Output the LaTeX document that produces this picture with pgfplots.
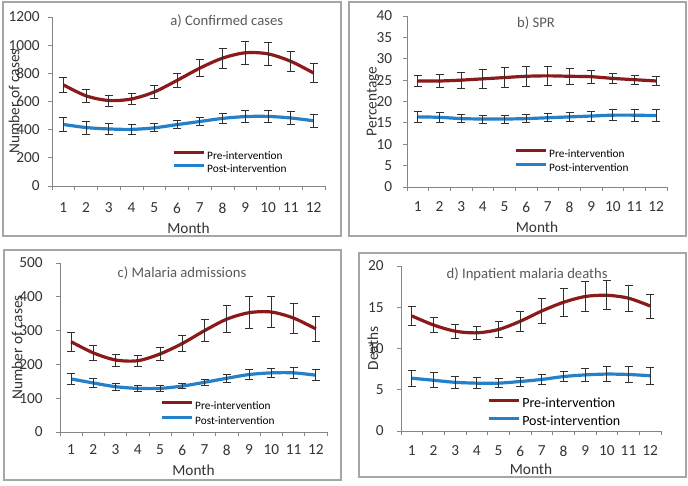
\documentclass[border=0pt]{standalone}
\usepackage{pgfplots}
\pgfplotsset{compat=1.18}
\usepackage{pgfplotstable}
\usepackage{fontspec}
\setmainfont{Carlito}
\definecolor{prered}{HTML}{8B1A1A}
\definecolor{postblue}{HTML}{2480C8}
\definecolor{axgray}{HTML}{868686}
\definecolor{boxgray}{HTML}{A6A6A6}
\definecolor{txt}{HTML}{333333}
\definecolor{ttl}{HTML}{595959}
\definecolor{ebar}{HTML}{303030}

\pgfplotstableread{
m v e
1 718 56
2 640 48
3 607 39
4 618 37
5 668 43
6 750 53
7 837 59
8 908 70
9 946 80
10 938 82
11 885 74
12 802 68
}\Apre
\pgfplotstableread{
m v e
1 437 52
2 415 46
3 405 42
4 402 36
5 413 28
6 436 30
7 458 30
8 480 35
9 493 43
10 494 45
11 483 47
12 463 48
}\Apost
\pgfplotstableread{
m v e
1 24.8 1.3
2 24.8 1.5
3 25.0 1.9
4 25.3 2.2
5 25.6 2.4
6 25.9 2.4
7 26.0 2.3
8 25.9 1.9
9 25.8 1.5
10 25.4 1.1
11 25.1 1.0
12 24.8 1.0
}\Bpre
\pgfplotstableread{
m v e
1 16.4 1.35
2 16.3 1.2
3 16.0 1.0
4 15.9 0.95
5 15.9 0.95
6 16.0 0.95
7 16.2 0.95
8 16.4 1.15
9 16.6 1.2
10 16.8 1.3
11 16.8 1.4
12 16.7 1.4
}\Bpost
\pgfplotstableread{
m v e
1 267 29
2 234 22
3 213 18
4 211 17
5 231 20
6 262 25
7 300 33
8 334 40
9 353 47
10 355 47
11 337 44
12 305 36
}\Cpre
\pgfplotstableread{
m v e
1 157 15
2 145 13
3 134 11
4 129 9
5 129 8
6 136 8
7 147 9
8 159 11
9 170 14
10 175 14
11 175 15
12 168 16
}\Cpost
\pgfplotstableread{
m v e
1 13.95 1.1
2 12.85 0.95
3 12.1 0.85
4 11.9 0.8
5 12.3 1.0
6 13.3 1.2
7 14.55 1.5
8 15.6 1.7
9 16.3 1.8
10 16.45 1.75
11 16.1 1.6
12 15.15 1.45
}\Dpre
\pgfplotstableread{
m v e
1 6.4 1.0
2 6.15 0.9
3 5.9 0.75
4 5.8 0.65
5 5.8 0.55
6 6.0 0.55
7 6.25 0.55
8 6.6 0.6
9 6.8 0.8
10 6.9 0.9
11 6.85 1.0
12 6.7 1.05
}\Dpost

\pgfplotsset{
  panel/.style={
    scale only axis,
    clip=false,
    axis lines*=left,
    axis line style={draw=axgray, line width=0.7pt, -},
    xmin=0.5, xmax=12.5,
    xtick={1,...,12},
    minor xtick={0.5,1.5,...,12.5},
    major x tick style={draw=none},
    minor x tick style={draw=axgray, line width=0.7pt},
    y tick style={draw=axgray, line width=0.7pt},
    tick align=outside,
    major tick length=3pt,
    minor tick length=3pt,
    ymin=0,
    /pgf/number format/assume math mode=true,
    /pgf/number format/1000 sep={},
    tick label style={font=\fontsize{11.5}{13}\selectfont, text=txt},
    yticklabel style={anchor=east, inner sep=0pt},
    label style={font=\fontsize{11.5}{13}\selectfont, text=txt},
    xlabel={Month},
    legend cell align=left,
    legend image code/.code={\draw[#1] (0pt,2.6pt) -- (22.5pt,2.6pt); \path (24pt,0pt);},
    every axis plot/.append style={
      smooth, no marks, line width=2.4pt,
      error bars/y dir=both, error bars/y explicit,
      error bars/error bar style={draw=ebar, line width=0.6pt, solid},
      error bars/error mark options={rotate=90, mark size=3pt, draw=ebar, line width=0.6pt, solid},
    },
  },
  leg/.style n args={4}{
    legend style={at={(axis description cs:#1,#2)}, anchor=west, draw=none, fill=none,
      inner sep=0pt, outer sep=0pt, row sep=#3,
      font=\fontsize{#4}{#4}\selectfont,
      nodes={inner sep=0pt, text height=6pt, text depth=1.5pt, text=black}},
  },
}

\begin{document}
\begin{tikzpicture}[x=0.75pt,y=0.75pt]
\useasboundingbox (0,0) rectangle (688,485);
\draw[boxgray, line width=0.8pt] (3,249) rectangle (341,483);
\draw[boxgray, line width=0.8pt] (349,249) rectangle (686,483);
\draw[boxgray, line width=0.8pt] (4,5) rectangle (341,235);
\draw[boxgray, line width=0.8pt] (359,8) rectangle (686,232);

% a
\begin{axis}[panel, at={(39pt,224.25pt)}, anchor=origin,
  width=204.75pt, height=126.75pt,
  ymax=1200, ytick={0,200,...,1200},
  yticklabel style={xshift=-6pt},
  xticklabel style={anchor=center, yshift=-13.5pt},
  xlabel style={at={(axis description cs:0.5,0)}, anchor=center, yshift=-31.5pt},
  ylabel={Number of cases},
  ylabel style={at={(axis description cs:-0.139,0.5)}, anchor=center},
  leg={0.4396}{0.139}{2.25pt}{8.5},
]
\addplot[prered] table[x=m, y=v, y error=e] {\Apre};
\addplot[postblue] table[x=m, y=v, y error=e] {\Apost};
\legend{Pre-intervention, Post-intervention}
\node[font=\fontsize{11}{13}\selectfont, text=ttl] at (axis description cs:0.64,0.973) {a) Confirmed cases};
\end{axis}

% b
\begin{axis}[panel, at={(305.25pt,223.5pt)}, anchor=origin,
  width=195pt, height=128.25pt,
  ymax=40, ytick={0,5,...,40},
  yticklabel style={xshift=-8pt},
  xticklabel style={anchor=center, yshift=-12pt},
  xlabel style={at={(axis description cs:0.5,0)}, anchor=center, yshift=-30pt},
  ylabel={Percentage},
  ylabel style={at={(axis description cs:-0.131,0.5)}, anchor=center},
  leg={0.4115}{0.152}{3pt}{8.5},
]
\addplot[prered] table[x=m, y=v, y error=e] {\Bpre};
\addplot[postblue] table[x=m, y=v, y error=e] {\Bpost};
\legend{Pre-intervention, Post-intervention}
\node[font=\fontsize{11}{13}\selectfont, text=ttl] at (axis description cs:0.496,0.961) {b) SPR};
\end{axis}

% c
\begin{axis}[panel, at={(45pt,39.75pt)}, anchor=origin,
  width=200.25pt, height=126.75pt,
  ymax=500, ytick={0,100,...,500},
  yticklabel style={xshift=-9.75pt},
  xticklabel style={anchor=center, yshift=-10.5pt},
  xlabel style={at={(axis description cs:0.5,0)}, anchor=center, yshift=-28.5pt},
  ylabel={Number of cases},
  ylabel style={at={(axis description cs:-0.161,0.5)}, anchor=center},
  leg={0.3745}{0.109}{3.75pt}{8.5},
]
\addplot[prered] table[x=m, y=v, y error=e] {\Cpre};
\addplot[postblue] table[x=m, y=v, y error=e] {\Cpost};
\legend{Pre-intervention, Post-intervention}
\node[font=\fontsize{11}{13}\selectfont, text=ttl] at (axis description cs:0.457,0.941) {c) Malaria admissions};
\end{axis}

% d
\begin{axis}[panel, at={(300.75pt,40.5pt)}, anchor=origin,
  width=195pt, height=123.75pt,
  ymax=20, ytick={0,5,...,20},
  yticklabel style={xshift=-9.75pt},
  xticklabel style={anchor=center, yshift=-12pt},
  xlabel style={at={(axis description cs:0.5,0)}, anchor=center, yshift=-28.5pt},
  ylabel={Deaths},
  ylabel style={at={(axis description cs:-0.108,0.5)}, anchor=center},
  leg={0.331}{0.109}{6pt}{10.5},
]
\addplot[prered] table[x=m, y=v, y error=e] {\Dpre};
\addplot[postblue] table[x=m, y=v, y error=e] {\Dpost};
\legend{Pre-intervention, Post-intervention}
\node[font=\fontsize{11}{13}\selectfont, text=ttl] at (axis description cs:0.485,0.952) {d) Inpatient malaria deaths};
\end{axis}
\end{tikzpicture}
\end{document}
